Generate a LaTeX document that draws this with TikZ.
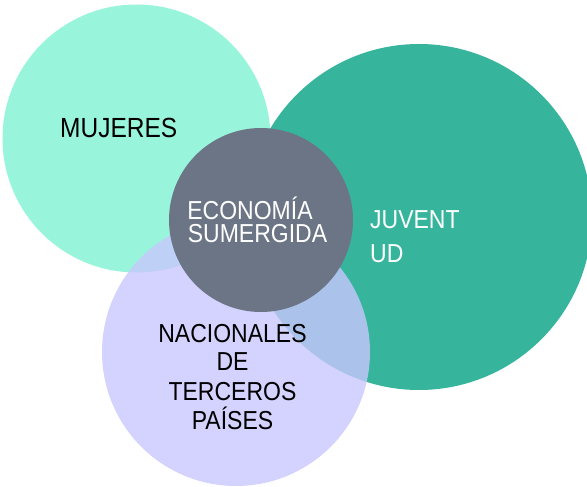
\documentclass[tikz,border=0pt]{standalone}
\usepackage{graphicx}
\usepackage{fontspec}
\setmainfont{Liberation Sans}
\definecolor{mint}{RGB}{152,245,219}
\definecolor{teal2}{RGB}{54,181,156}
\definecolor{lav}{RGB}{201,199,254}
\definecolor{slate}{RGB}{108,117,133}
\newcommand{\tall}[1]{\scalebox{1}[1.13]{#1}}
\tikzset{
  lbl/.style={inner sep=0pt, font=\fontsize{23}{23}\selectfont},
  dark/.style={lbl, text=black},
  light/.style={lbl, text=white}
}
\begin{document}
\begin{tikzpicture}[x=1pt,y=-1pt]
\useasboundingbox (0,0) rectangle (587,487);
\fill[mint] (136.5,138.5) circle[radius=134];
\fill[teal2] (419,217) circle[radius=173];
\fill[lav, fill opacity=0.8] (236,352) circle[radius=134];
\fill[slate] (261,220) circle[radius=92];
\node[dark, anchor=base west, font=\fontsize{24.5}{24.5}\selectfont] (muj) at (60,138) {\tall{MUJERES}};
\node[light, anchor=base] (eco1) at (250,219) {\tall{ECONOMÍA}};
\node[light, anchor=base] (eco2) at (257.5,242.5) {\tall{SUMERGIDA}};
\node[light, anchor=base west] (juv1) at (370,228) {\tall{JUVENT}};
\node[light, anchor=base west] (juv2) at (370,262) {\tall{UD}};
\node[dark, anchor=base] (nac1) at (232.5,342) {\tall{NACIONALES}};
\node[dark, anchor=base] (nac2) at (232.5,370) {\tall{DE}};
\node[dark, anchor=base] (nac3) at (232.5,400) {\tall{TERCEROS}};
\node[dark, anchor=base] (nac4) at (232.5,429) {\tall{PAÍSES}};
\end{tikzpicture}
\end{document}
